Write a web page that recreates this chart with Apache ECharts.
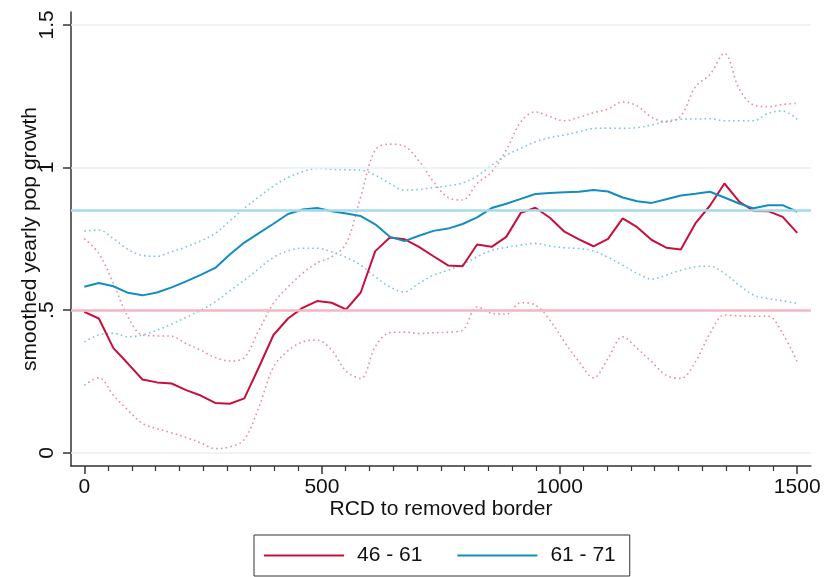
<!DOCTYPE html>
<html>
<head>
<meta charset="utf-8">
<script src="https://cdn.jsdelivr.net/npm/echarts@6/dist/echarts.min.js"></script>
<style>
html,body{margin:0;padding:0;background:#fff;}
#chart{width:824px;height:577px;}
</style>
</head>
<body>
<div id="chart"></div>
<script>
// x positions of the smoothed estimates
var xVals = [0,30.6,61.2,91.8,122.4,153.1,183.7,214.3,244.9,275.5,
  306.1,336.7,367.3,398,428.6,459.2,489.8,520.4,551,581.6,
  612.2,642.9,673.5,704.1,734.7,765.3,795.9,826.5,857.1,887.8,
  918.4,949,979.6,1010.2,1040.8,1071.4,1102,1132.7,1163.3,1193.9,
  1224.5,1255.1,1285.7,1316.3,1346.9,1377.6,1408.2,1438.8,1469.4,1500];

// 46 - 61
var s4661 = [0.494,0.471,0.367,0.313,0.257,0.247,0.243,0.220,0.201,0.175,
  0.172,0.191,0.300,0.413,0.471,0.508,0.532,0.526,0.503,0.562,
  0.707,0.755,0.749,0.722,0.689,0.657,0.654,0.730,0.722,0.757,
  0.841,0.859,0.824,0.775,0.748,0.724,0.750,0.822,0.791,0.746,
  0.719,0.713,0.804,0.866,0.944,0.881,0.848,0.847,0.827,0.771];
var s4661Upper = [0.751,0.699,0.594,0.477,0.413,0.410,0.409,0.383,0.360,0.334,
  0.322,0.334,0.430,0.524,0.582,0.629,0.666,0.687,0.734,0.897,
  1.061,1.082,1.075,1.023,0.950,0.895,0.886,0.944,0.985,1.061,
  1.160,1.195,1.178,1.164,1.176,1.192,1.205,1.230,1.216,1.176,
  1.160,1.180,1.283,1.326,1.400,1.277,1.219,1.213,1.221,1.225];
var s4661Lower = [0.237,0.263,0.202,0.150,0.103,0.085,0.070,0.054,0.035,0.015,
  0.021,0.047,0.160,0.301,0.358,0.389,0.395,0.360,0.286,0.261,
  0.372,0.421,0.423,0.418,0.421,0.423,0.430,0.512,0.489,0.486,
  0.526,0.518,0.465,0.389,0.319,0.263,0.331,0.407,0.366,0.319,
  0.272,0.261,0.319,0.418,0.483,0.480,0.479,0.479,0.418,0.319];

// 61 - 71
var s6171 = [0.582,0.595,0.584,0.561,0.552,0.562,0.580,0.601,0.624,0.648,
  0.695,0.737,0.770,0.803,0.837,0.853,0.858,0.847,0.839,0.830,
  0.801,0.757,0.742,0.761,0.778,0.786,0.802,0.825,0.858,0.873,
  0.890,0.907,0.911,0.913,0.915,0.921,0.916,0.895,0.882,0.876,
  0.889,0.902,0.908,0.915,0.895,0.874,0.857,0.868,0.868,0.845];
var s6171Upper = [0.777,0.781,0.751,0.713,0.692,0.689,0.705,0.722,0.743,0.769,
  0.813,0.857,0.897,0.935,0.965,0.985,0.997,0.994,0.992,0.991,
  0.973,0.944,0.921,0.923,0.930,0.936,0.946,0.970,1.008,1.043,
  1.067,1.090,1.105,1.114,1.125,1.137,1.138,1.137,1.140,1.149,
  1.163,1.169,1.170,1.171,1.164,1.164,1.164,1.190,1.198,1.169];
var s6171Lower = [0.389,0.413,0.419,0.407,0.413,0.430,0.451,0.475,0.500,0.529,
  0.568,0.605,0.646,0.685,0.708,0.717,0.717,0.705,0.685,0.658,
  0.617,0.582,0.564,0.594,0.623,0.640,0.661,0.687,0.710,0.720,
  0.728,0.734,0.725,0.719,0.716,0.708,0.685,0.658,0.629,0.609,
  0.623,0.640,0.652,0.654,0.629,0.588,0.553,0.541,0.533,0.524];

// reference lines (means)
var refMean4661 = 0.5;
var refMean6171 = 0.85;

// ticks
var xMajorTicks = [0,500,1000,1500];
var xTickLabels = ['0','500','1000','1500'];
var xMinorTicks = [50,100,150,200,250,300,350,400,450,550,600,650,700,750,800,850,900,950,
  1050,1100,1150,1200,1250,1300,1350,1400,1450];
var yTicks = [0,0.5,1,1.5];
var yTickLabels = ['0','.5','1','1.5'];
var yGridValues = [0,1,1.5];

function pairs(xs, ys){ return xs.map(function(x,i){ return [x, ys[i]]; }); }

var FONT = '"Liberation Sans", Arial, Helvetica, sans-serif';
var FS = 21;
var RED = '#c8103c', BLUE = '#138dbf', PINK = '#ec8ba2', LBLUE = '#7cc6e0';

var chart = echarts.init(document.getElementById('chart'), null, {renderer:'canvas'});
chart.setOption({
  animation: false,
  backgroundColor: '#ffffff',
  textStyle: {fontFamily: FONT},
  grid: {left: 71, right: 13, top: 12, bottom: 111, containLabel: false},
  legend: {
    data: [{name: '46 - 61', icon: 'rect'}, {name: '61 - 71', icon: 'rect'}],
    left: 254, top: 535,
    padding: [10, 14, 10, 10],
    borderColor: '#333', borderWidth: 1,
    itemWidth: 80, itemHeight: 2, itemGap: 35,
    textStyle: {fontSize: FS, color: '#111', fontFamily: FONT, padding: [0,0,0,8]}
  },
  xAxis: [{
    type: 'value', min: -28, max: 1529,
    name: 'RCD to removed border', nameLocation: 'middle', nameGap: 33, nameMoveOverlap: false,
    nameTextStyle: {fontSize: FS, color: '#111', fontFamily: FONT},
    axisLine: {show: true, onZero: false, lineStyle: {color: '#333', width: 1.5}},
    axisTick: {show: true, customValues: xMajorTicks, length: 8, lineStyle: {color: '#333', width: 1.5}},
    axisLabel: {show: true, customValues: xMajorTicks, fontSize: FS, color: '#111', margin: 11, fontFamily: FONT,
      formatter: function(v){ var i = xMajorTicks.indexOf(v); return i >= 0 ? xTickLabels[i] : ''; }},
    splitLine: {show: false}
  }, {
    type: 'value', min: -28, max: 1529, position: 'bottom',
    axisLine: {show: false, onZero: false},
    axisTick: {show: true, customValues: xMinorTicks, length: 5, lineStyle: {color: '#333', width: 1.2}},
    axisLabel: {show: false},
    splitLine: {show: false}
  }],
  yAxis: {
    type: 'value', min: -0.046, max: 1.545,
    name: 'smoothed yearly pop growth', nameLocation: 'middle', nameGap: 30, nameRotate: 90, nameMoveOverlap: false,
    nameTextStyle: {fontSize: FS, color: '#111', fontFamily: FONT},
    axisLine: {show: true, onZero: false, lineStyle: {color: '#333', width: 1.5}},
    axisTick: {show: true, customValues: yTicks, length: 8, lineStyle: {color: '#333', width: 1.5}},
    axisLabel: {show: true, customValues: yTicks, rotate: 90, fontSize: FS, color: '#111', margin: 13, fontFamily: FONT,
      formatter: function(v){ var i = yTicks.indexOf(v); return i >= 0 ? yTickLabels[i] : ''; }},
    splitLine: {show: false}
  },
  series: [
    {
      name: 'grid', type: 'line', data: [], silent: true, z: 1,
      markLine: {
        silent: true, symbol: 'none', label: {show: false}, animation: false,
        data: yGridValues.map(function(v){ return {yAxis: v, lineStyle: {color: '#e9f0f2', width: 1.5, type: 'solid'}}; })
          .concat([
            {yAxis: refMean4661, lineStyle: {color: '#f3b6c4', width: 2.5, type: 'solid'}},
            {yAxis: refMean6171, lineStyle: {color: '#a6daea', width: 2.5, type: 'solid'}}
          ])
      }
    },
    {name: '46 - 61 upper', type: 'line', data: pairs(xVals, s4661Upper), smooth: 0.35, symbol: 'none', z: 2,
      lineStyle: {color: PINK, width: 1.6, type: [1.6, 3.2]}},
    {name: '46 - 61 lower', type: 'line', data: pairs(xVals, s4661Lower), smooth: 0.35, symbol: 'none', z: 2,
      lineStyle: {color: PINK, width: 1.6, type: [1.6, 3.2]}},
    {name: '61 - 71 upper', type: 'line', data: pairs(xVals, s6171Upper), smooth: 0.35, symbol: 'none', z: 2,
      lineStyle: {color: LBLUE, width: 1.6, type: [1.6, 3.2]}},
    {name: '61 - 71 lower', type: 'line', data: pairs(xVals, s6171Lower), smooth: 0.35, symbol: 'none', z: 2,
      lineStyle: {color: LBLUE, width: 1.6, type: [1.6, 3.2]}},
    {name: '46 - 61', type: 'line', data: pairs(xVals, s4661), symbol: 'none', z: 3,
      itemStyle: {color: RED}, lineStyle: {color: RED, width: 2}},
    {name: '61 - 71', type: 'line', data: pairs(xVals, s6171), symbol: 'none', z: 3,
      itemStyle: {color: BLUE}, lineStyle: {color: BLUE, width: 2}}
  ]
});
</script>
</body>
</html>
